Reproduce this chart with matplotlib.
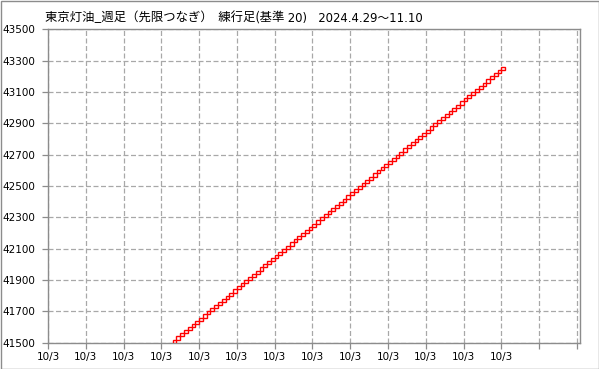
import matplotlib
matplotlib.use("Agg")
import matplotlib.pyplot as plt
from matplotlib.patches import Rectangle

# ---------------------------------
# Data (renko bricks, box size 20)
# ---------------------------------
brick_bottoms = [
    41500, 41520, 41540, 41560, 41580, 41600, 41620, 41640, 41660, 41680,
    41700, 41720, 41740, 41760, 41780, 41800, 41820, 41840, 41860, 41880,
    41900, 41920, 41940, 41960, 41980, 42000, 42020, 42040, 42060, 42080,
    42100, 42120, 42140, 42160, 42180, 42200, 42220, 42240, 42260, 42280,
    42300, 42320, 42340, 42360, 42380, 42400, 42420, 42440, 42460, 42480,
    42500, 42520, 42540, 42560, 42580, 42600, 42620, 42640, 42660, 42680,
    42700, 42720, 42740, 42760, 42780, 42800, 42820, 42840, 42860, 42880,
    42900, 42920, 42940, 42960, 42980, 43000, 43020, 43040, 43060, 43080,
    43100, 43120, 43140, 43160, 43180, 43200, 43220, 43240,
]
brick_size = 20
first_index = 33

x_ticks = [0, 10, 20, 30, 40, 50, 60, 70, 80, 90, 100, 110, 120, 130, 140]
x_labels = ["10/3"] * 13 + ["", ""]
y_ticks = [41500, 41700, 41900, 42100, 42300, 42500, 42700, 42900, 43100, 43300, 43500]

title_main = "東京灯油_週足（先限つなぎ）  練行足(基準"
title_tail = " 20)   2024.4.29～11.10"

# ---------------------------------
# Figure
# ---------------------------------
W, H = 599, 369
fig = plt.figure(figsize=(W / 100, H / 100), dpi=100)
ax = fig.add_axes([48 / W, 1 - 342.7 / H, (580 - 48) / W, (342.7 - 29.3) / H])

grid_col = "#a8a8a8"
spine_col = "#8c8c8c"

x_pos = [first_index + i for i in range(len(brick_bottoms))]
ax.bar(x_pos, [brick_size] * len(brick_bottoms), bottom=brick_bottoms,
       width=1, align="edge", facecolor="white", edgecolor="#ff0000",
       linewidth=1.0, zorder=3)

ax.set_xlim(0, 140.8)
ax.set_ylim(41500, 43500)
ax.set_xticks(x_ticks)
ax.set_xticklabels(x_labels)
ax.set_yticks(y_ticks)

ax.grid(True, color=grid_col, linestyle=(0, (4, 2)), linewidth=0.9, zorder=0)

for s in ax.spines.values():
    s.set_color(spine_col)
    s.set_linewidth(1.0)

ax.tick_params(axis="both", direction="out", length=4, width=0.9,
               color=spine_col, labelsize=7.5, labelcolor="#000000")
ax.tick_params(axis="y", pad=5)
ax.tick_params(axis="x", pad=3)

# title in two pieces (latin tail is smaller)
t1 = fig.text(45 / W, 1 - 22 / H, title_main, fontsize=8.9,
              family=["Noto Sans CJK JP", "DejaVu Sans"], va="baseline")
ax.annotate(title_tail, xy=(1, 0), xycoords=t1, xytext=(0, 0),
            textcoords="offset points", fontsize=8.4,
            family=["DejaVu Sans", "Noto Sans CJK JP"], va="bottom", ha="left")

# outer frame
fig.patches.append(Rectangle((0.5 / W, 0.5 / H), 1 - 1 / W, 1 - 1 / H,
                             transform=fig.transFigure, fill=False,
                             edgecolor="#8c8c8c", linewidth=1.0))

fig.savefig("out.png", dpi=100)
